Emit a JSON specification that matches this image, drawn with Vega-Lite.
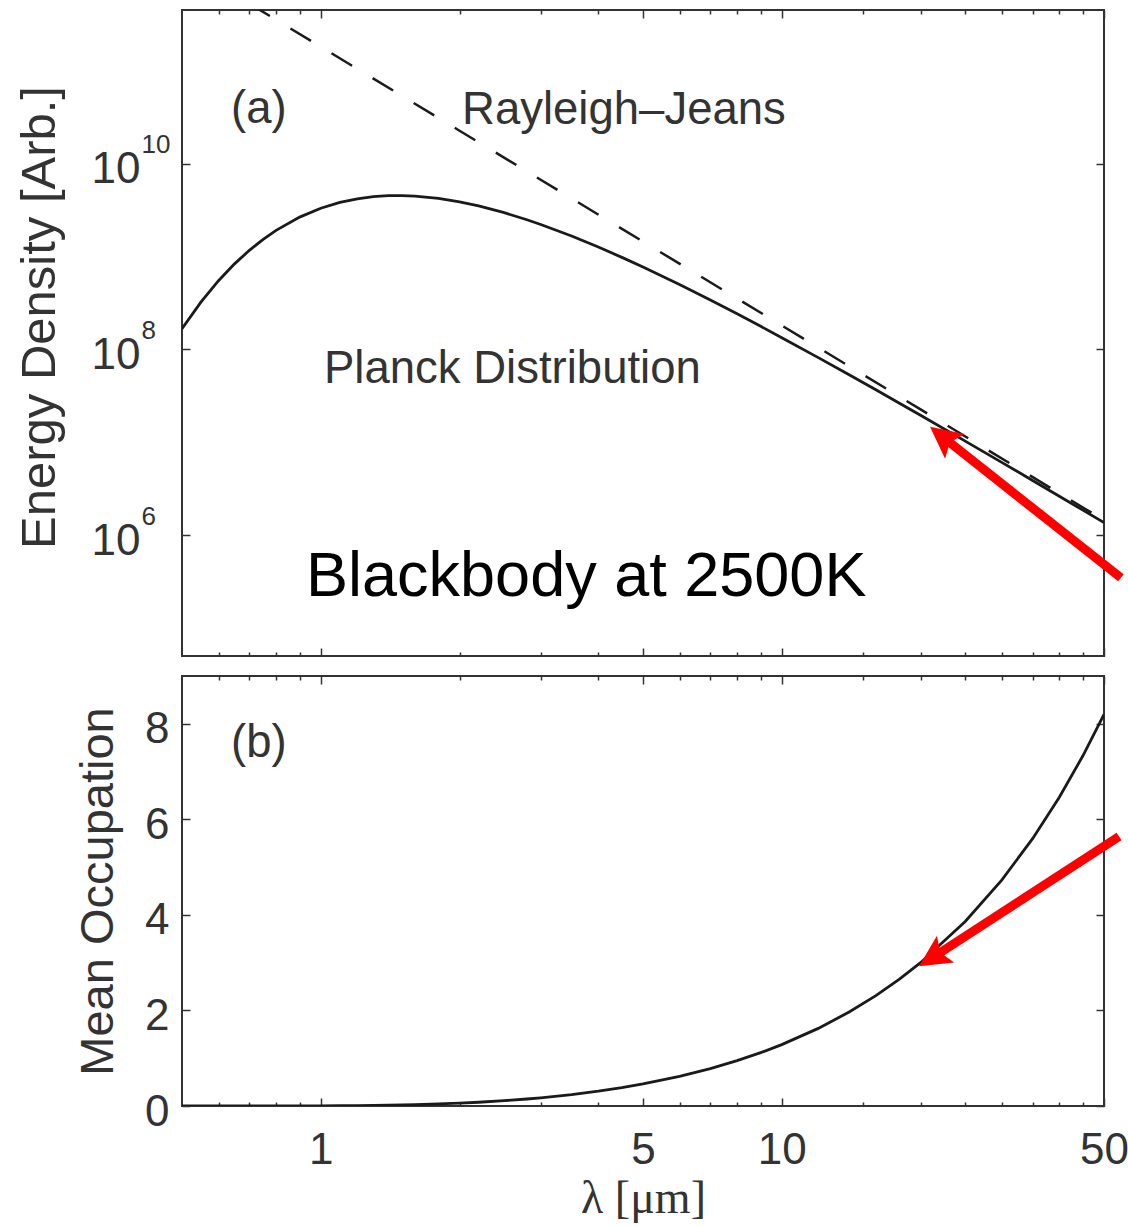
{
  "$schema": "https://vega.github.io/schema/vega-lite/v6.json",
  "padding": {"left": 14, "top": 8, "right": 0, "bottom": 0},
  "spacing": 16,
  "config": {
    "view": {"stroke": "#333333", "strokeWidth": 2},
    "font": "Liberation Sans",
    "axis": {
      "domain": false,
      "grid": false,
      "tickColor": "#333333",
      "tickWidth": 1.5,
      "labelColor": "#333333",
      "titleColor": "#333333",
      "labelFont": "Liberation Sans",
      "titleFont": "Liberation Sans",
      "labelFontSize": 44,
      "titleFontSize": 47,
      "titleFontWeight": "normal",
      "labelFlush": false,
      "labelOverlap": false
    }
  },
  "datasets": {
    "planck": [
      {"lam": 0.5, "energy": 1.669e8, "occ": 0.00001003},
      {"lam": 0.55, "energy": 3.245e8, "occ": 0.00002855},
      {"lam": 0.6, "energy": 5.480e8, "occ": 0.00006829},
      {"lam": 0.65, "energy": 8.322e8, "occ": 0.0001428},
      {"lam": 0.7, "energy": 1.1646e9, "occ": 0.0002689},
      {"lam": 0.75, "energy": 1.5291e9, "occ": 0.0004652},
      {"lam": 0.8, "energy": 1.9087e9, "occ": 0.0007517},
      {"lam": 0.9, "energy": 2.6526e9, "occ": 0.001673},
      {"lam": 1.0, "energy": 3.3037e9, "occ": 0.003177},
      {"lam": 1.1, "energy": 3.8160e9, "occ": 0.005372},
      {"lam": 1.2, "energy": 4.1789e9, "occ": 0.008332},
      {"lam": 1.3, "energy": 4.4042e9, "occ": 0.01210},
      {"lam": 1.4, "energy": 4.5124e9, "occ": 0.01667},
      {"lam": 1.5, "energy": 4.5275e9, "occ": 0.02204},
      {"lam": 1.6, "energy": 4.4720e9, "occ": 0.02818},
      {"lam": 1.8, "energy": 4.2219e9, "occ": 0.04262},
      {"lam": 2.0, "energy": 3.8759e9, "occ": 0.05963},
      {"lam": 2.2, "energy": 3.5013e9, "occ": 0.07886},
      {"lam": 2.5, "energy": 2.9600e9, "occ": 0.1112},
      {"lam": 2.8, "energy": 2.4846e9, "occ": 0.1468},
      {"lam": 3.0, "energy": 2.2100e9, "occ": 0.1721},
      {"lam": 3.5, "energy": 1.6590e9, "occ": 0.2394},
      {"lam": 4.0, "energy": 1.2634e9, "occ": 0.3110},
      {"lam": 4.5, "energy": 9.782e8, "occ": 0.3857},
      {"lam": 5.0, "energy": 7.699e8, "occ": 0.4627},
      {"lam": 6.0, "energy": 4.986e8, "occ": 0.6213},
      {"lam": 7.0, "energy": 3.396e8, "occ": 0.7841},
      {"lam": 8.0, "energy": 2.411e8, "occ": 0.9495},
      {"lam": 9.0, "energy": 1.770e8, "occ": 1.1168},
      {"lam": 10.0, "energy": 1.3367e8, "occ": 1.2853},
      {"lam": 12.0, "energy": 8.150e7, "occ": 1.6249},
      {"lam": 14.0, "energy": 5.325e7, "occ": 1.9668},
      {"lam": 16.0, "energy": 3.666e7, "occ": 2.3101},
      {"lam": 18.0, "energy": 2.630e7, "occ": 2.6543},
      {"lam": 20.0, "energy": 1.9494e7, "occ": 2.9991},
      {"lam": 25.0, "energy": 1.0286e7, "occ": 3.8632},
      {"lam": 30.0, "energy": 6.072e6, "occ": 4.7288},
      {"lam": 35.0, "energy": 3.878e6, "occ": 5.5953},
      {"lam": 40.0, "energy": 2.625e6, "occ": 6.4625},
      {"lam": 45.0, "energy": 1.859e6, "occ": 7.3298},
      {"lam": 50.0, "energy": 1.364e6, "occ": 8.1975}
    ],
    "rj": [
      {"lam": 0.7, "energy": 5.2685e11},
      {"lam": 1.0, "energy": 1.80709e11},
      {"lam": 2.0, "energy": 2.25886e10},
      {"lam": 5.0, "energy": 1.44567e9},
      {"lam": 10.0, "energy": 1.80709e8},
      {"lam": 20.0, "energy": 2.25886e7},
      {"lam": 50.0, "energy": 1.44567e6}
    ],
    "notesA": [
      {"lam": 0.6387, "val": 2.742e10, "label": "(a)"},
      {"lam": 2.025, "val": 2.675e10, "label": "Rayleigh–Jeans"},
      {"lam": 1.0163, "val": 4.36e7, "label": "Planck Distribution"}
    ],
    "titleNote": [
      {"lam": 0.929, "val": 2.221e5, "label": "Blackbody at 2500K"}
    ],
    "notesB": [
      {"lam": 0.6387, "val": 7.295, "label": "(b)"}
    ],
    "arrowA": [
      {"lam": 54.4, "val": 3.47e5, "lam2": 23.03, "val2": 1.0125e7}
    ],
    "headA": [
      {"lam": 20.97, "val": 1.465e7}
    ],
    "arrowB": [
      {"lam": 53.9, "val": 5.642, "lam2": 22.04, "val2": 3.208}
    ],
    "headB": [
      {"lam": 19.85, "val": 2.923}
    ]
  },
  "vconcat": [
    {
      "width": 922,
      "height": 646,
      "resolve": {"axis": {"x": "independent", "y": "independent"}},
      "layer": [
        {
          "data": {"name": "planck"},
          "mark": {"type": "line", "color": "#1a1a1a", "strokeWidth": 2.8, "clip": true},
          "encoding": {
            "x": {"field": "lam", "type": "quantitative",
                  "scale": {"type": "log", "domain": [0.5, 50], "nice": false},
                  "axis": {"orient": "bottom", "values": [1, 5, 10, 50], "tickSize": -8, "labels": false, "title": null}},
            "y": {"field": "energy", "type": "quantitative",
                  "scale": {"type": "log", "domain": [50000, 450000000000], "nice": false},
                  "axis": {"orient": "left", "values": [1000000, 100000000, 10000000000], "tickSize": -8, "labelPadding": 50,
                           "labelExpr": "'10'", "labelAlign": "right", "labelBaseline": "alphabetic", "labelOffset": 19,
                           "title": "Energy Density [Arb.]", "titleFontSize": 49, "titlePadding": 27, "titleY": 307}}
          }
        },
        {
          "data": {"name": "rj"},
          "mark": {"type": "line", "color": "#1a1a1a", "strokeWidth": 2.5, "strokeDash": [24, 24], "clip": true},
          "encoding": {
            "x": {"field": "lam", "type": "quantitative",
                  "axis": {"orient": "top", "values": [1, 5, 10, 50], "tickSize": -8, "labels": false, "title": null}},
            "y": {"field": "energy", "type": "quantitative",
                  "axis": {"orient": "right", "values": [1000000, 100000000, 10000000000], "tickSize": -8, "labels": false, "title": null}}
          }
        },
        {
          "data": {"name": "notesA"},
          "mark": {"type": "text", "align": "left", "baseline": "alphabetic", "fontSize": 45.5, "color": "#333333"},
          "encoding": {
            "x": {"field": "lam", "type": "quantitative",
                  "axis": {"orient": "bottom", "values": [0.6, 0.7, 0.8, 0.9, 2, 3, 4, 6, 7, 8, 9, 15, 20, 25, 30, 35, 40, 45], "tickSize": -4, "labels": false, "title": null}},
            "y": {"field": "val", "type": "quantitative",
                  "axis": {"orient": "left", "values": [1000000, 100000000, 10000000000], "ticks": true, "tickSize": 0, "tickOpacity": 0, "labelPadding": 41,
                           "labelExpr": "datum.value > 1e9 ? '10' : datum.value > 1e7 ? '8' : '6'",
                           "labelAlign": "left", "labelBaseline": "alphabetic", "labelOffset": -10.7, "labelFontSize": 26, "title": null}},
            "text": {"field": "label"}
          }
        },
        {
          "data": {"name": "titleNote"},
          "mark": {"type": "text", "align": "left", "baseline": "alphabetic", "fontSize": 63, "color": "#000000", "font": "Liberation Sans"},
          "encoding": {
            "x": {"field": "lam", "type": "quantitative",
                  "axis": {"orient": "top", "values": [0.6, 0.7, 0.8, 0.9, 2, 3, 4, 6, 7, 8, 9, 15, 20, 25, 30, 35, 40, 45], "tickSize": -4, "labels": false, "title": null}},
            "y": {"field": "val", "type": "quantitative", "axis": null},
            "text": {"field": "label"}
          }
        },
        {
          "data": {"name": "arrowA"},
          "mark": {"type": "rule", "color": "#ff0000", "strokeWidth": 9, "clip": false},
          "encoding": {
            "x": {"field": "lam", "type": "quantitative", "axis": null},
            "y": {"field": "val", "type": "quantitative", "axis": null},
            "x2": {"field": "lam2"},
            "y2": {"field": "val2"}
          }
        },
        {
          "data": {"name": "headA"},
          "mark": {"type": "point", "shape": "M0,0L0.5,1L0,0.8L-0.5,1Z", "size": 4000, "angle": 308.3, "filled": true, "color": "#ff0000", "opacity": 1, "strokeWidth": 0, "clip": false},
          "encoding": {
            "x": {"field": "lam", "type": "quantitative", "axis": null},
            "y": {"field": "val", "type": "quantitative", "axis": null}
          }
        }
      ]
    },
    {
      "width": 922,
      "height": 430,
      "resolve": {"axis": {"x": "independent", "y": "independent"}},
      "layer": [
        {
          "data": {"name": "planck"},
          "mark": {"type": "line", "color": "#1a1a1a", "strokeWidth": 2.8, "clip": true},
          "encoding": {
            "x": {"field": "lam", "type": "quantitative",
                  "scale": {"type": "log", "domain": [0.5, 50], "nice": false},
                  "axis": {"orient": "bottom", "values": [1, 5, 10, 50], "tickSize": -8, "labelPadding": 30.5, "format": "d",
                           "title": "λ [μm]", "titleFont": "Liberation Serif", "titleFontSize": 46, "titlePadding": 4}},
            "y": {"field": "occ", "type": "quantitative",
                  "scale": {"domain": [0, 9], "nice": false, "zero": false},
                  "axis": {"orient": "left", "values": [0, 2, 4, 6, 8], "tickSize": -8, "labelPadding": 21,
                           "labelBaseline": "alphabetic", "labelOffset": 19,
                           "title": "Mean Occupation", "titlePadding": 22}}
          }
        },
        {
          "data": {"name": "notesB"},
          "mark": {"type": "text", "align": "left", "baseline": "alphabetic", "fontSize": 45.5, "color": "#333333"},
          "encoding": {
            "x": {"field": "lam", "type": "quantitative",
                  "axis": {"orient": "top", "values": [1, 5, 10, 50], "tickSize": -8, "labels": false, "title": null}},
            "y": {"field": "val", "type": "quantitative",
                  "axis": {"orient": "right", "values": [0, 2, 4, 6, 8], "tickSize": -8, "labels": false, "title": null}},
            "text": {"field": "label"}
          }
        },
        {
          "data": {"name": "arrowB"},
          "mark": {"type": "rule", "color": "#ff0000", "strokeWidth": 9, "clip": false},
          "encoding": {
            "x": {"field": "lam", "type": "quantitative",
                  "axis": {"orient": "bottom", "values": [0.6, 0.7, 0.8, 0.9, 2, 3, 4, 6, 7, 8, 9, 15, 20, 25, 30, 35, 40, 45], "tickSize": -4, "labels": false, "title": null}},
            "y": {"field": "val", "type": "quantitative", "axis": null},
            "x2": {"field": "lam2"},
            "y2": {"field": "val2"}
          }
        },
        {
          "data": {"name": "headB"},
          "mark": {"type": "point", "shape": "M0,0L0.5,1L0,0.8L-0.5,1Z", "size": 4000, "angle": 237, "filled": true, "color": "#ff0000", "opacity": 1, "strokeWidth": 0, "clip": false},
          "encoding": {
            "x": {"field": "lam", "type": "quantitative",
                  "axis": {"orient": "top", "values": [0.6, 0.7, 0.8, 0.9, 2, 3, 4, 6, 7, 8, 9, 15, 20, 25, 30, 35, 40, 45], "tickSize": -4, "labels": false, "title": null}},
            "y": {"field": "val", "type": "quantitative", "axis": null}
          }
        }
      ]
    }
  ]
}
